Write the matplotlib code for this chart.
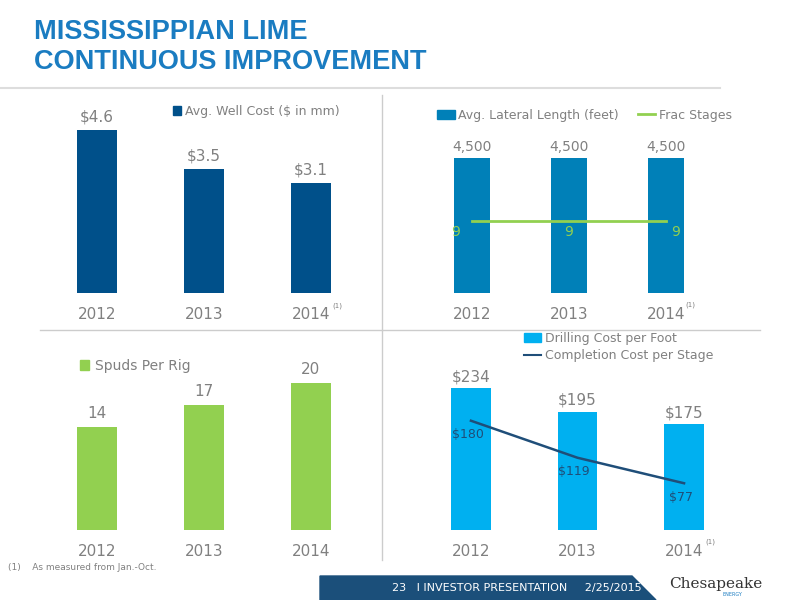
import matplotlib.pyplot as plt
from matplotlib.lines import Line2D
from matplotlib.patches import Patch, Polygon

years = ["2012", "2013", "2014"]
well_cost = [4.6, 3.5, 3.1]
lateral_len = [4500, 4500, 4500]
frac_stages = [9, 9, 9]
spuds = [14, 17, 20]
drill_cost = [234, 195, 175]
compl_cost = [180, 119, 77]

W, H = 800, 600
fig = plt.figure(figsize=(8, 6), dpi=100)
grey = "#808080"


def ax_px(x0, y0, x1, y1):
    # pixel box (top-left origin) -> figure axes
    return fig.add_axes([x0 / W, 1 - y1 / H, (x1 - x0) / W, (y1 - y0) / H])


def clean(ax, ticklabels, sup=False):
    for s in ax.spines.values():
        s.set_visible(False)
    ax.set_yticks([])
    ax.set_xticks(range(3))
    ax.set_xticklabels(ticklabels, color=grey, fontsize=11)
    ax.tick_params(axis="x", length=0, pad=10)
    ax.set_xlim(-0.6, 2.6)
    if sup:
        ax.text(2.2, -0.05, "(1)", transform=ax.get_xaxis_transform(),
                fontsize=5, color=grey, va="top")


# title
fig.text(34 / W, 1 - 32 / H, "MISSISSIPPIAN LIME", color="#1A7CC1", family="Liberation Sans",
         fontsize=19.5, fontweight="bold", va="center")
fig.text(34 / W, 1 - 62 / H, "CONTINUOUS IMPROVEMENT", color="#1A7CC1", family="Liberation Sans",
         fontsize=19.5, fontweight="bold", va="center")
fig.add_artist(Line2D([0, 0.9], [1 - 88 / H] * 2, color="#DDDDDD", lw=1.5))
fig.add_artist(Line2D([40 / W, 760 / W], [1 - 330 / H] * 2, color="#CCCCCC", lw=1))
fig.add_artist(Line2D([382 / W] * 2, [1 - 95 / H, 1 - 560 / H], color="#CCCCCC", lw=1))

# top left
ax = ax_px(33, 105, 375, 293)
c = "#00508A"
ax.bar(range(3), well_cost, width=0.38, color=c)
ax.set_ylim(0, 5.3)
for i, v in enumerate(well_cost):
    ax.text(i, v + 0.15, f"${v}", ha="center", va="bottom", color=grey, fontsize=11)
clean(ax, years, sup=True)
ax.legend(handles=[Patch(color=c, label="Avg. Well Cost ($ in mm)")], loc="upper right",
          bbox_to_anchor=(0.93, 1.06), frameon=False, fontsize=9, labelcolor=grey,
          handlelength=0.7, handletextpad=0.3)

# top right
ax = ax_px(414, 130, 724, 293)
c = "#0080B8"
ax.bar(range(3), lateral_len, width=0.37, color=c)
ax.set_ylim(0, 5430)
for i, v in enumerate(lateral_len):
    ax.text(i, v + 120, f"{v:,}", ha="center", va="bottom", color=grey, fontsize=10)
ax2 = ax.twinx()
ax2.plot(range(3), frac_stages, color="#92D050", lw=2)
ax2.set_ylim(0, 20.4)
for i, v in enumerate(frac_stages):
    ax2.text(i - 0.17 if i == 0 else i + 0.1 if i == 2 else i, v - 0.5, str(v),
             ha="center", va="top", color="#92D050", fontsize=10)
ax2.axis("off")
clean(ax, years, sup=True)
ax.legend(handles=[Patch(color=c, label="Avg. Lateral Length (feet)"),
                   Line2D([], [], color="#92D050", lw=2, label="Frac Stages")],
          loc="upper center", bbox_to_anchor=(0.55, 1.2), ncol=2, frameon=False,
          fontsize=9, labelcolor=grey, handlelength=1.4, handletextpad=0.3,
          columnspacing=1.5)

# bottom left
ax = ax_px(33, 360, 375, 530)
c = "#92D050"
ax.bar(range(3), spuds, width=0.37, color=c)
ax.set_ylim(0, 23.1)
for i, v in enumerate(spuds):
    ax.text(i, v + 0.8, str(v), ha="center", va="bottom", color=grey, fontsize=11)
clean(ax, years)
ax.legend(handles=[Patch(color=c, label="Spuds Per Rig")], loc="upper left",
          bbox_to_anchor=(0.1, 1.08), frameon=False, fontsize=10, labelcolor=grey,
          handlelength=0.7, handletextpad=0.4)

# bottom right
ax = ax_px(407, 360, 748, 530)
c = "#00B0F0"
ax.bar(range(3), drill_cost, width=0.37, color=c)
ax.plot(range(3), compl_cost, color="#1F4E79", lw=1.8)
ax.set_ylim(0, 280)
for i, v in enumerate(drill_cost):
    ax.text(i, v + 6, f"${v}", ha="center", va="bottom", color=grey, fontsize=11)
for i, v in enumerate(compl_cost):
    ax.text(i - 0.03, v - 12, f"${v}", ha="center", va="top", color="#1F4E79", fontsize=9)
clean(ax, years, sup=True)
ax.legend(handles=[Patch(color=c, label="Drilling Cost per Foot"),
                   Line2D([], [], color="#1F4E79", lw=1.5, label="Completion Cost per Stage")],
          loc="upper center", bbox_to_anchor=(0.62, 1.23), frameon=False, fontsize=9,
          labelcolor=grey, handlelength=1.4, handletextpad=0.3, labelspacing=0.3)

# footer
fig.text(8 / W, 1 - 568 / H, "(1)    As measured from Jan.-Oct.", fontsize=6.5, color=grey, va="center")
fig.add_artist(Polygon([[0.4, 0], [0.4, 1 - 576 / H], [0.79, 1 - 576 / H], [0.82, 0]],
                       closed=True, color="#1B4F7A", transform=fig.transFigure))
fig.text(0.49, 1 - 588 / H, "23   I INVESTOR PRESENTATION     2/25/2015", color="white",
         fontsize=8, va="center")
fig.text(0.895, 1 - 584 / H, "Chesapeake", family="serif", fontsize=11, color="#333333",
         ha="center", va="center")
fig.text(0.915, 1 - 594 / H, "ENERGY", fontsize=3.5, color="#1A7CC1", ha="center", va="center")

fig.savefig("out.png", dpi=100)
